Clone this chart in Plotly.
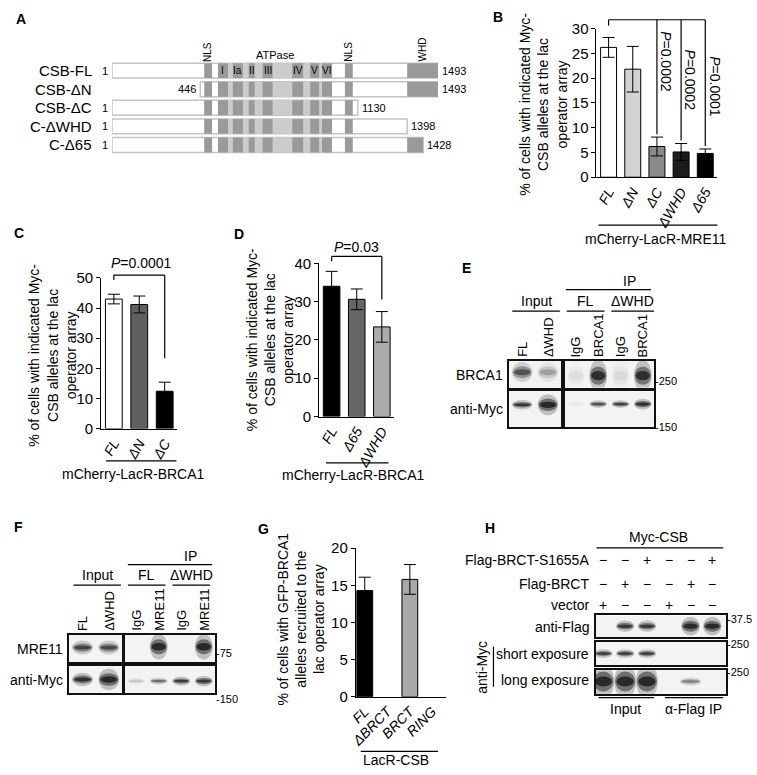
import plotly.graph_objects as go

W, H = 757, 775
FONT = "Liberation Sans, Arial, Helvetica, sans-serif"

# ---------------- data ----------------
# A: CSB constructs (schematic residue coordinates)
constructs = ["CSB-FL", "CSB-ΔN", "CSB-ΔC", "C-ΔWHD", "C-Δ65"]
start_labels = ["1", "446", "1", "1", "1"]
end_labels = ["1493", "1493", "1130", "1398", "1428"]
drawn_start = [1, 405, 1, 1, 1]
drawn_end = [1493, 1493, 1126, 1352, 1425]
motifs = ["I", "Ia", "II", "III", "IV", "V", "VI"]
motif_start = [486, 554, 627, 690, 826, 908, 962]
motif_end = [532, 600, 654, 736, 876, 949, 1008]
atpase = [486, 1008]
nls_start = [423, 1067]
nls_end = [459, 1103]
whd = [1352, 1493]

# B: recruitment to mCherry-LacR-MRE11
b_labels = ["FL", "ΔN", "ΔC", "ΔWHD", "Δ65"]
b_values = [26.2, 21.8, 6.2, 5.1, 4.8]
b_errors = [2.0, 4.6, 1.9, 1.7, 0.9]
b_pvals = ["0.0002", "0.0002", "0.0001"]

# C: recruitment to mCherry-LacR-BRCA1
c_labels = ["FL", "ΔN", "ΔC"]
c_values = [43.0, 41.2, 12.4]
c_errors = [1.6, 2.8, 3.0]
c_pval = "0.0001"

# D
d_labels = ["FL", "Δ65", "ΔWHD"]
d_values = [34.0, 30.6, 23.4]
d_errors = [3.9, 2.7, 4.0]
d_pval = "0.03"

# G: GFP-BRCA1 alleles at LacR-CSB
g_labels = ["FL", "ΔBRCT", "BRCT", "RING"]
g_values = [14.3, None, 15.8, None]
g_errors = [1.8, None, 2.0, None]

# blots: band intensity per lane (0 = nothing)
e_lanes_input = ["FL", "ΔWHD"]
e_lanes_ip = ["IgG", "BRCA1", "IgG", "BRCA1"]
e_brca1_input = [0.7, 0.3]
e_brca1_ip = [0.06, 0.95, 0.08, 0.95]
e_myc_input = [0.9, 1.0]
e_myc_ip = [0.03, 0.7, 0.8, 0.95]

f_lanes_input = ["FL", "ΔWHD"]
f_lanes_ip = ["IgG", "MRE11", "IgG", "MRE11"]
f_mre11_input = [0.8, 0.75]
f_mre11_ip = [0.0, 1.0, 0.0, 1.0]
f_myc_input = [0.95, 1.0]
f_myc_ip = [0.15, 0.55, 0.85, 0.9]

h_s1655a = ["−", "−", "+", "−", "−", "+"]
h_brct = ["−", "+", "−", "−", "+", "−"]
h_vector = ["+", "−", "−", "+", "−", "−"]
h_flag = [0.0, 0.85, 0.85, 0.0, 1.0, 1.0]
h_short = [0.85, 0.85, 0.85, 0.0, 0.0, 0.0]
h_long = [1.0, 1.0, 1.0, 0.0, 0.45, 0.0]


def fx(x):
    return x / W


def fy(y):
    return 1 - y / H


fig = go.Figure()
layout = {}
shapes = []
ann = []


def note(x, y, s, size=14, xa="center", ya="middle", angle=0, xref="paper", yref="paper", **kw):
    d = dict(x=x, y=y, text=s, showarrow=False, xanchor=xa, yanchor=ya, textangle=angle,
             font=dict(size=size, color="black"), xref=xref, yref=yref, borderpad=0)
    d.update(kw)
    ann.append(d)


def ptext(x, y, s, **kw):
    note(fx(x), fy(y), s, **kw)


def seg(x0, y0, x1, y1, w=1.2):
    shapes.append(dict(type="line", xref="paper", yref="paper", x0=fx(x0), y0=fy(y0),
                       x1=fx(x1), y1=fy(y1), line=dict(color="black", width=w)))


# panel letters
for L, x, y in [("A", 8, 10), ("B", 490, 8), ("C", 6, 229), ("D", 228, 230),
                ("E", 458, 265), ("F", 6, 530), ("G", 252, 532), ("H", 481, 531)]:
    ptext(x, y, "<b>%s</b>" % L, size=14, xa="left")

# ---------------- A: domain map ----------------
rows = list(range(len(constructs)))


def clipped(s, e):
    xs, ys, bs = [], [], []
    for i in rows:
        a, b = max(s, drawn_start[i]), min(e, drawn_end[i])
        if b > a:
            xs.append(b - a)
            bs.append(a)
            ys.append(i)
    return xs, ys, bs


fig.add_trace(go.Bar(orientation="h", y=rows, base=drawn_start,
                     x=[e - s for s, e in zip(drawn_start, drawn_end)], width=0.8,
                     marker=dict(color="white", line=dict(color="#c4c4c4", width=1.5)),
                     xaxis="x", yaxis="y", hoverinfo="skip"))
xs, ys, bs = clipped(*atpase)
fig.add_trace(go.Bar(orientation="h", y=ys, base=bs, x=xs, width=0.8,
                     marker=dict(color="#cccccc", line=dict(width=0)),
                     xaxis="x", yaxis="y", hoverinfo="skip"))
dark_s = nls_start + motif_start + [whd[0]]
dark_e = nls_end + motif_end + [whd[1]]
for s, e in zip(dark_s, dark_e):
    xs, ys, bs = clipped(s, e)
    fig.add_trace(go.Bar(orientation="h", y=ys, base=bs, x=xs, width=0.8,
                         marker=dict(color="#9a9a9a", line=dict(width=0)),
                         xaxis="x", yaxis="y", hoverinfo="skip"))

layout["xaxis"] = dict(domain=[fx(106), fx(435)], range=[1, 1493], visible=False, anchor="y")
layout["yaxis"] = dict(domain=[fy(150.4), fy(51.6)], range=[4.6, -0.6], visible=False, anchor="x")

for i in rows:
    note(fx(87), i, constructs[i], size=15, xa="right", yref="y")
    note(drawn_start[i], i, start_labels[i], size=11, xa="right", xshift=-3, xref="x", yref="y")
    note(drawn_end[i], i, end_labels[i], size=11, xa="left", xshift=3, xref="x", yref="y")
for m, s, e in zip(motifs, motif_start, motif_end):
    note((s + e) / 2, 0, m, size=10, xref="x", yref="y")
for s, e in zip(nls_start, nls_end):
    note((s + e) / 2, -0.42, "NLS", size=10, angle=-90, ya="bottom", xref="x", yref="y")
note(sum(whd) / 2, -0.42, "WHD", size=10, angle=-90, ya="bottom", xref="x", yref="y")
note(sum(atpase) / 2, -0.42, "ATPase", size=11, ya="bottom", xref="x", yref="y", yshift=1)

# ---------------- bar panels ----------------
geom = {}


def bar_panel(n, x0, x1, ytop, ybot, labels, values, errors, colors, ymax, dtick, angle,
              xlo=-0.5, bw=0.66):
    k = len(labels)
    geom[n] = (x0, x1, ytop, ybot, xlo, k, ymax)
    fig.add_trace(go.Bar(x=list(range(k)), y=values, width=bw,
                         marker=dict(color=colors, line=dict(color="black", width=1)),
                         error_y=dict(type="data", array=errors, visible=True, color="black",
                                      thickness=1, width=6),
                         xaxis="x%d" % n, yaxis="y%d" % n, hoverinfo="skip"))
    layout["xaxis%d" % n] = dict(domain=[fx(x0), fx(x1)], range=[xlo, xlo + k], anchor="y%d" % n,
                                 tickvals=list(range(k)),
                                 ticktext=["<i>%s</i>" % t for t in labels], tickangle=angle,
                                 showline=True, linecolor="black", linewidth=1, ticks="",
                                 showgrid=False, zeroline=False, tickfont=dict(size=14))
    layout["yaxis%d" % n] = dict(domain=[fy(ybot), fy(ytop)], range=[0, ymax], anchor="x%d" % n,
                                 dtick=dtick, ticks="outside", ticklen=4, tickcolor="black",
                                 showline=True, linecolor="black", linewidth=1,
                                 showgrid=False, zeroline=False, tickfont=dict(size=15))


def cx(n, i):
    x0, x1, ytop, ybot, xlo, k, ymax = geom[n]
    return x0 + (i - xlo) / k * (x1 - x0)


def vy(n, v):
    x0, x1, ytop, ybot, xlo, k, ymax = geom[n]
    return ybot - v / ymax * (ybot - ytop)


ytitle = "% of cells with indicated Myc-<br>CSB alleles at the lac<br>operator array"

# B
bar_panel(2, 595, 717, 20, 172, b_labels, b_values, b_errors,
          ["#ffffff", "#d2d2d2", "#8a8a8a", "#1c1c1c", "#000000"], 30, 5, -60)
ptext(541, 97, ytitle, angle=-90)
top = 11
seg(cx(2, 0), top, cx(2, 4), top)
seg(cx(2, 0), top, cx(2, 0), top + 6)
for j, (i, ty) in enumerate(zip([2, 3, 4], [22, 40, 47])):
    seg(cx(2, i), top, cx(2, i), vy(2, b_values[i] + b_errors[i]) - 3)
    ptext(cx(2, i) + 9, ty, "<i>P</i>=" + b_pvals[j], angle=90, ya="top")
seg(597, 221, 717, 221)
ptext(655, 235, "mCherry-LacR-MRE11")

# C
bar_panel(3, 95, 172, 275, 429, c_labels, c_values, c_errors,
          ["#ffffff", "#606060", "#000000"], 50, 10, -60)
ptext(46, 354, ytitle, angle=-90)
seg(cx(3, 0), 272, cx(3, 2), 272)
seg(cx(3, 0), 272, cx(3, 0), 277)
seg(cx(3, 2), 272, cx(3, 2), 357)
ptext((cx(3, 0) + cx(3, 2)) / 2 + 2, 260, "<i>P</i>=" + c_pval)
seg(100, 462, 171, 462)
ptext(128, 475, "mCherry-LacR-BRCA1")

# D
bar_panel(4, 315, 391, 260, 416.7, d_labels, d_values, d_errors,
          ["#000000", "#666666", "#ababab"], 40, 10, -60)
ptext(265, 338, ytitle, angle=-90)
seg(cx(4, 0), 253, cx(4, 2), 253)
seg(cx(4, 0), 253, cx(4, 0), 258)
seg(cx(4, 2), 253, cx(4, 2), 297)
ptext((cx(4, 0) + cx(4, 2)) / 2, 243, "<i>P</i>=" + d_pval)
seg(322, 464, 385, 464)
ptext(350, 476, "mCherry-LacR-BRCA1")

# G
bar_panel(5, 352, 443, 551.3, 703.3, g_labels, g_values, g_errors,
          ["#000000", "#ffffff", "#a8a8a8", "#ffffff"], 20, 5, -45, xlo=-0.4, bw=0.7)
ptext(297, 624, "% of cells with GFP-BRCA1<br>alleles recruited to the<br>lac operator array", angle=-90)
seg(357, 759, 435, 759)
ptext(393, 768, "LacR-CSB", ya="middle")

# ---------------- blots ----------------
def blot_axis(n, x0, x1, y0, y1, nl, lo=-0.5):
    ax = dict(showline=True, mirror=True, linecolor="#111", linewidth=1.5, showticklabels=False,
              ticks="", showgrid=False, zeroline=False, fixedrange=True)
    layout["xaxis%d" % n] = dict(ax, domain=[fx(x0), fx(x1)], range=[lo, lo + nl], anchor="y%d" % n)
    layout["yaxis%d" % n] = dict(ax, domain=[fy(y1), fy(y0)], range=[0, 1], anchor="x%d" % n)
    shapes.append(dict(type="rect", xref="x%d domain" % n, yref="y%d domain" % n, x0=0, x1=1,
                       y0=0, y1=1, fillcolor="#f3f3f3", line=dict(width=0), layer="below"))


def bands(n, intens, yc, h, mult=None, wf=0.8):
    for i, v in enumerate(intens):
        if v <= 0:
            continue
        m = mult[i] if mult else 1.0
        for sw, sh, a in [(1.0, 1.7, 0.22), (0.92, 1.0, 0.45), (0.78, 0.5, 0.7)]:
            hw = wf / 2 * sw
            hh = h * m / 2 * sh
            shapes.append(dict(type="circle", xref="x%d" % n, yref="y%d" % n,
                               x0=i - hw, x1=i + hw, y0=yc - hh, y1=yc + hh,
                               fillcolor="rgba(12,12,12,%.3f)" % (a * v), line=dict(width=0)))


def lane_labels(n, labels, ybottom):
    for i, t in enumerate(labels):
        note(i, fy(ybottom), t, size=13, angle=-90, ya="bottom", xref="x%d" % n)


# E
blot_axis(6, 507, 559, 360, 387, 2)
blot_axis(7, 507, 559, 391, 427, 2)
blot_axis(8, 563, 653, 360, 387, 4)
blot_axis(9, 563, 653, 391, 427, 4)
bands(6, e_brca1_input, 0.58, 0.45)
bands(8, e_brca1_ip, 0.45, 0.7)
bands(7, e_myc_input, 0.62, 0.16, mult=[1, 2.2])
bands(9, e_myc_ip, 0.64, 0.13, mult=[1, 1, 1, 1.4])
lane_labels(6, e_lanes_input, 357)
lane_labels(8, e_lanes_ip, 357)
ptext(628, 278, "IP")
seg(564, 287, 650, 287)
for t, xa, xb in [("Input", 510, 558), ("FL", 565, 603), ("ΔWHD", 610, 653)]:
    ptext((xa + xb) / 2, 299, t)
    seg(xa, 309, xb, 309)
ptext(502, 374, "BRCA1", xa="right")
ptext(502, 409, "anti-Myc", xa="right")
ptext(653, 380, "-250", size=11, xa="left")
ptext(653, 427, "-150", size=11, xa="left")

# F
blot_axis(10, 63, 116, 640, 668, 2)
blot_axis(11, 63, 116, 672, 699, 2)
blot_axis(12, 119, 210, 640, 668, 4)
blot_axis(13, 119, 210, 672, 699, 4)
bands(10, f_mre11_input, 0.54, 0.3)
bands(12, f_mre11_ip, 0.57, 0.55)
bands(11, f_myc_input, 0.5, 0.3, mult=[1, 1.6])
bands(13, f_myc_ip, 0.44, 0.2, mult=[0.8, 0.8, 1, 1.2])
lane_labels(10, f_lanes_input, 637)
lane_labels(12, f_lanes_ip, 637)
ptext(185, 559, "IP")
seg(122, 568, 207, 568)
for t, xa, xb in [("Input", 67, 115), ("FL", 122, 160), ("ΔWHD", 167, 205)]:
    ptext((xa + xb) / 2, 579, t)
    seg(xa, 589, xb, 589)
ptext(58, 654, "MRE11", xa="right")
ptext(58, 686, "anti-Myc", xa="right")
ptext(210, 658, "-75", size=11, xa="left")
ptext(210, 705, "-150", size=11, xa="left")

# H
blot_axis(14, 594, 726, 620, 642, 6, lo=-0.36)
blot_axis(15, 594, 726, 647, 671, 6, lo=-0.36)
blot_axis(16, 594, 726, 676, 700, 6, lo=-0.36)
bands(14, h_flag, 0.5, 0.32, mult=[1, 1, 1, 1, 1.6, 1.6], wf=0.85)
bands(15, h_short, 0.5, 0.22, wf=0.85)
bands(16, h_long, 0.52, 0.85, mult=[1, 1, 1, 1, 0.25, 1], wf=1.0)
ptext(658, 540, "Myc-CSB")
seg(595, 551, 723, 551)
for t, y, signs in [("Flag-BRCT-S1655A", 563, h_s1655a), ("Flag-BRCT", 588, h_brct),
                    ("vector", 609, h_vector)]:
    ptext(588, y, t, xa="right")
    for i, s in enumerate(signs):
        note(i, fy(y), s, size=14, xref="x14")
ptext(588, 632, "anti-Flag", xa="right")
ptext(588, 659, "short exposure", xa="right")
ptext(588, 686, "long exposure", xa="right")
ptext(480, 673, "anti-Myc", angle=-90)
seg(491, 652, 491, 693)
ptext(726, 624, "-37.5", size=11, xa="left")
ptext(726, 649, "-250", size=11, xa="left")
ptext(726, 678, "-250", size=11, xa="left")
seg(597, 704, 653, 704)
seg(664, 704, 723, 704)
ptext(624, 716, "Input")
ptext(693, 716, "α-Flag IP")

fig.update_layout(width=W, height=H, margin=dict(l=0, r=0, t=0, b=0), autosize=False,
                  paper_bgcolor="white", plot_bgcolor="white", barmode="overlay",
                  showlegend=False, font=dict(family=FONT, size=14, color="black"),
                  shapes=shapes, annotations=ann, **layout)
# drop the default page margin so the figure sits at the window origin
fig.write_html("out.html", config={"displayModeBar": False},
               post_script="document.body.style.margin='0';")
